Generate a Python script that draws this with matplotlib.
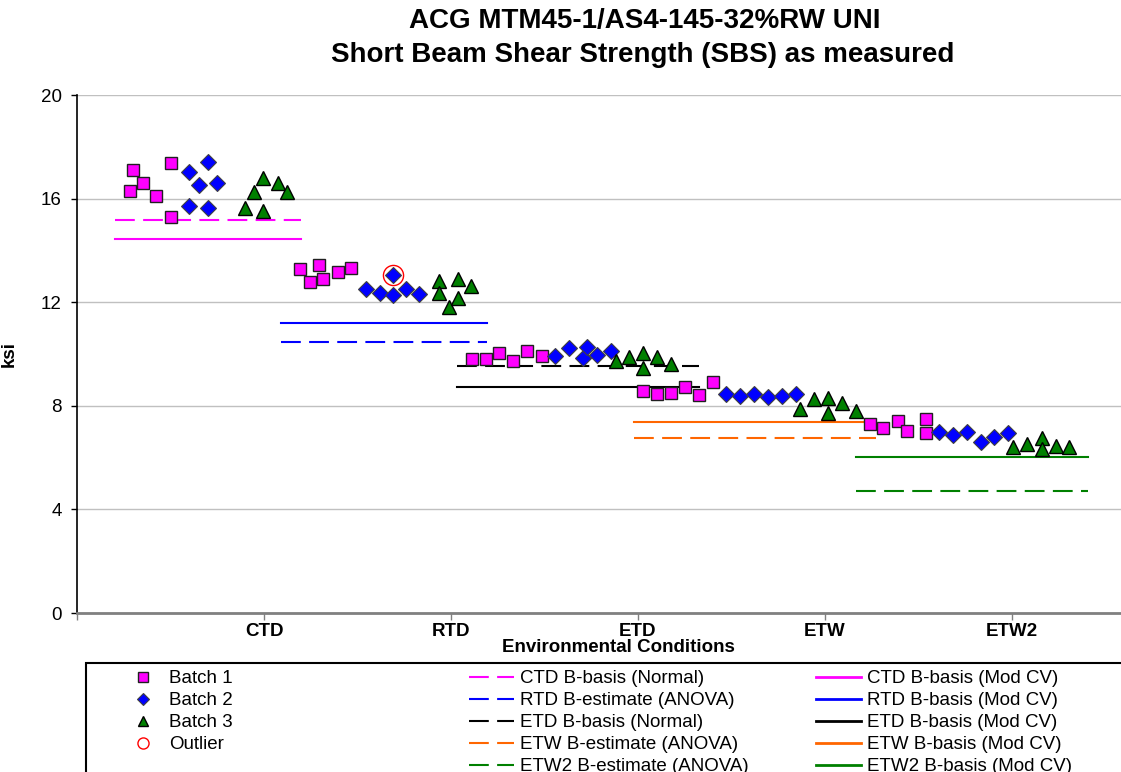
import matplotlib
matplotlib.use('Agg')
import matplotlib.pyplot as plt
from matplotlib.lines import Line2D
from matplotlib.patches import Rectangle

plt.rcParams['font.family'] = ['Liberation Sans', 'DejaVu Sans']

# ---------------- data ----------------
conditions = ['CTD', 'RTD', 'ETD', 'ETW', 'ETW2']
condition_pos = [1, 2, 3, 4, 5]
yticks = [0, 4, 8, 12, 16, 20]

batch1_x = [0.283, 0.299, 0.353, 0.422, 0.503, 0.503,
            1.193, 1.246, 1.294, 1.317, 1.394, 1.464,
            2.111, 2.187, 2.258, 2.330, 2.408, 2.485,
            3.028, 3.103, 3.175, 3.251, 3.326, 3.399,
            4.241, 4.312, 4.389, 4.437, 4.539, 4.539]
batch1_y = [16.31, 17.10, 16.61, 16.10, 17.39, 15.28,
            13.28, 12.79, 13.44, 12.88, 13.18, 13.33,
            9.80, 9.80, 10.05, 9.74, 10.13, 9.93,
            8.58, 8.46, 8.51, 8.71, 8.42, 8.91,
            7.30, 7.13, 7.42, 7.03, 7.49, 6.94]

batch2_x = [0.600, 0.600, 0.652, 0.702, 0.702, 0.750,
            1.544, 1.620, 1.691, 1.691, 1.759, 1.829,
            2.556, 2.631, 2.704, 2.729, 2.779, 2.854,
            3.471, 3.545, 3.620, 3.697, 3.768, 3.845,
            4.611, 4.686, 4.758, 4.834, 4.905, 4.980]
batch2_y = [17.02, 15.71, 16.53, 17.42, 15.63, 16.59,
            12.51, 12.37, 12.28, 13.05, 12.50, 12.31,
            9.93, 10.22, 9.86, 10.26, 9.96, 10.12,
            8.46, 8.39, 8.46, 8.33, 8.39, 8.44,
            7.00, 6.87, 7.00, 6.61, 6.81, 6.94]

batch3_x = [0.898, 0.947, 0.993, 0.996, 1.073, 1.121,
            1.937, 1.937, 1.989, 2.036, 2.039, 2.105,
            2.881, 2.953, 3.028, 3.028, 3.103, 3.175,
            3.866, 3.943, 4.018, 4.018, 4.092, 4.166,
            5.007, 5.082, 5.159, 5.159, 5.234, 5.305]
batch3_y = [15.65, 16.27, 15.52, 16.78, 16.61, 16.24,
            12.83, 12.34, 11.83, 12.15, 12.88, 12.63,
            9.74, 9.90, 10.03, 9.45, 9.87, 9.61,
            7.88, 8.25, 8.29, 7.73, 8.12, 7.81,
            6.42, 6.53, 6.77, 6.33, 6.46, 6.40]

outlier_x = [1.691]
outlier_y = [13.05]

basis_start = [0.203, 1.091, 2.032, 2.979, 4.166]
basis_end = [1.198, 2.193, 3.326, 4.273, 5.406]
basis_dashed = [15.17, 10.45, 9.55, 6.75, 4.72]
basis_solid = [14.43, 11.21, 8.74, 7.36, 6.01]
dashed_labels = ['CTD B-basis (Normal)', 'RTD B-estimate (ANOVA)',
                 'ETD B-basis (Normal)', 'ETW B-estimate (ANOVA)',
                 'ETW2 B-estimate (ANOVA)']
solid_labels = ['CTD B-basis (Mod CV)', 'RTD B-basis (Mod CV)',
                'ETD B-basis (Mod CV)', 'ETW B-basis (Mod CV)',
                'ETW2 B-basis (Mod CV)']
title_lines = ['ACG MTM45-1/AS4-145-32%RW UNI',
               'Short Beam Shear Strength (SBS) as measured']

# ---------------- style ----------------
line_colors = ['#FF00FF', '#0000FF', '#000000', '#FF6600', '#008000']
W, H = 1121, 772
FS = 13.5
dash = (0, (9.5, 4))

fig = plt.figure(figsize=(W / 100, H / 100), dpi=100)
ax = fig.add_axes([77 / W, 1 - 613 / H, (W - 77) / W, (613 - 95) / H])

for xs, xe, yd, ys, c in zip(basis_start, basis_end, basis_dashed, basis_solid, line_colors):
    ax.plot([xs, xe], [yd, yd], color=c, lw=1.5, linestyle=dash, zorder=3)
    ax.plot([xs, xe], [ys, ys], color=c, lw=1.5, linestyle='-', zorder=3)

ax.plot(batch1_x, batch1_y, linestyle='none', marker='s', ms=9,
        mfc='#FF00FF', mec='#202020', mew=1.0, zorder=5)
ax.plot(batch2_x, batch2_y, linestyle='none', marker='D', ms=7.8,
        mfc='#0000FF', mec='#404040', mew=0.8, zorder=5)
ax.plot(batch3_x, batch3_y, linestyle='none', marker='^', ms=9.5,
        mfc='#008000', mec='#000000', mew=1.0, zorder=5)
ax.plot(outlier_x, outlier_y, linestyle='none', marker='o', ms=14.5,
        mfc='none', mec='#FF0000', mew=1.0, zorder=6)

ax.set_xlim(0, (W - 77) / 187)
ax.set_ylim(0, 20)
ax.set_yticks(yticks)
ax.set_yticklabels([str(v) for v in yticks])
ax.set_xticks([0] + condition_pos)
ax.set_xticklabels([''] + conditions, fontweight='bold')
ax.grid(axis='y', color='#C0C0C0', lw=1.0)
ax.set_axisbelow(True)
ax.tick_params(axis='y', direction='out', length=4, width=1, pad=7,
               labelsize=FS, color='#000000')
ax.tick_params(axis='x', direction='out', length=5, width=1, pad=2,
               labelsize=FS, color='#808080')
for s in ['top', 'right']:
    ax.spines[s].set_visible(False)
ax.spines['left'].set_color('#000000')
ax.spines['left'].set_linewidth(1.2)
ax.spines['bottom'].set_color('#808080')
ax.spines['bottom'].set_linewidth(2)

ax.set_ylabel('ksi', fontsize=FS, fontweight='bold')
ax.yaxis.set_label_coords((18 - 77) / (W - 77), 0.5)
ax.set_xlabel('Environmental Conditions', fontsize=FS, fontweight='bold')
ax.xaxis.set_label_coords((618 - 77) / (W - 77), (613 - 648) / (613 - 95))
ax.xaxis.label.set_va('center')

fig.text(645 / W, 1 - 21 / H, title_lines[0], ha='center', va='center',
         fontsize=20, fontweight='bold')
fig.text(643 / W, 1 - 55 / H, title_lines[1], ha='center', va='center',
         fontsize=20, fontweight='bold')

# ---------------- legend ----------------
h1 = [Line2D([], [], linestyle='none', marker='s', ms=7, mfc='#FF00FF', mec='#202020', mew=1.0),
      Line2D([], [], linestyle='none', marker='D', ms=6, mfc='#0000FF', mec='#404040', mew=0.8),
      Line2D([], [], linestyle='none', marker='^', ms=7.5, mfc='#008000', mec='#000000', mew=1.0),
      Line2D([], [], linestyle='none', marker='o', ms=8, mfc='none', mec='#FF0000', mew=1.0)]
l1 = ['Batch 1', 'Batch 2', 'Batch 3', 'Outlier']
h2 = [Line2D([], [], color=c, lw=1.5, linestyle=dash) for c in line_colors]
h3 = [Line2D([], [], color=c, lw=2.0, linestyle='-') for c in line_colors]

common = dict(frameon=False, fontsize=FS, borderpad=0, borderaxespad=0,
              labelspacing=0.26, loc='upper left')
top = 1 - 670 / H
fig.legend(h1, l1, bbox_to_anchor=(131 / W, top), handlelength=1.3,
           handletextpad=0.75, **common)
fig.legend(h2, dashed_labels, bbox_to_anchor=(469 / W, top), handlelength=2.4,
           handletextpad=0.3, **common)
fig.legend(h3, solid_labels, bbox_to_anchor=(816 / W, top), handlelength=2.4,
           handletextpad=0.3, **common)

fig.add_artist(Rectangle((86 / W, -0.1), 1.2, (H - 663) / H + 0.1,
                         transform=fig.transFigure, fill=False,
                         edgecolor='#000000', lw=1.5))

fig.savefig('out.png', dpi=100)
